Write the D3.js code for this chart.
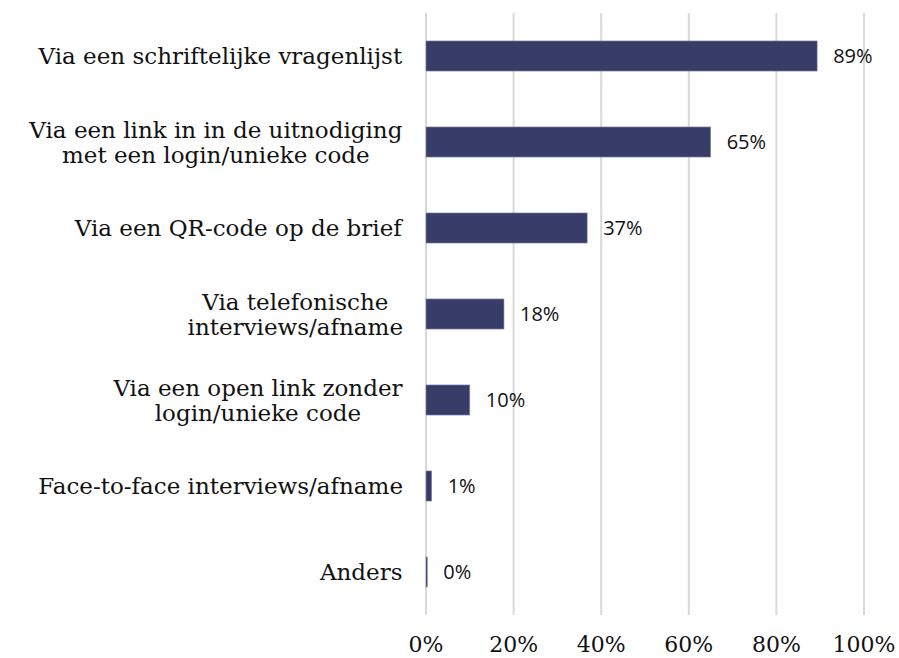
<!DOCTYPE html>
<html>
<head>
<meta charset="utf-8">
<script src="https://cdn.jsdelivr.net/npm/d3@7"></script>
<style>
  body { margin: 0; background: #fff; }
  svg { display: block; }
</style>
</head>
<body>
<script>
// data
const categories = [
  ['Via een schriftelijke vragenlijst'],
  ['Via een link in in de uitnodiging', 'met een login/unieke code'],
  ['Via een QR-code op de brief'],
  ['Via telefonische', 'interviews/afname'],
  ['Via een open link zonder', 'login/unieke code'],
  ['Face-to-face interviews/afname'],
  ['Anders']
]
const values = [89.3, 65, 36.8, 17.8, 10, 1.3, 0.3]
const ticks = [0, 20, 40, 60, 80, 100]

const width = 899, height = 658
const svg = d3.select('body').append('svg')
  .attr('width', width).attr('height', height)

const x = d3.scaleLinear().domain([0, 100]).range([426, 864])
const y = d3.scaleBand().domain(d3.range(categories.length)).range([13, 615]).paddingInner(0.65).paddingOuter(0.325)

const serif = '"DejaVu Serif", serif'
const sans = '"Open Sans", "Liberation Sans", sans-serif'

// gridlines
svg.append('g').selectAll('line')
  .data(ticks)
  .join('line')
  .attr('x1', d => x(d)).attr('x2', d => x(d))
  .attr('y1', 13).attr('y2', 615)
  .attr('stroke', '#d9d9d9')
  .attr('stroke-width', 2)

// tick labels
svg.append('g').selectAll('text')
  .data(ticks)
  .join('text')
  .attr('x', d => x(d))
  .attr('y', 652)
  .attr('text-anchor', 'middle')
  .attr('font-family', serif)
  .attr('font-size', 22)
  .attr('fill', '#111')
  .text(d => d + '%')

// bars
svg.append('g').selectAll('rect')
  .data(values)
  .join('rect')
  .attr('x', x(0))
  .attr('y', (d, i) => y(i))
  .attr('width', d => Math.max(1, x(d) - x(0)))
  .attr('height', y.bandwidth())
  .attr('fill', '#383c68')
  .attr('stroke', '#8a8db0')
  .attr('stroke-width', 0.6)

// value labels
svg.append('g').selectAll('text')
  .data(values)
  .join('text')
  .attr('x', d => x(d) + 16)
  .attr('y', (d, i) => y(i) + y.bandwidth() / 2)
  .attr('dy', '0.35em')
  .attr('font-family', sans)
  .attr('font-size', 20)
  .attr('fill', '#111')
  .text(d => Math.round(d) + '%')

// category labels
const cat = svg.append('g').selectAll('text')
  .data(categories)
  .join('text')
  .attr('text-anchor', 'middle')
  .attr('font-family', serif)
  .attr('font-size', 23)
  .attr('fill', '#111')
  .attr('transform', (d, i) => `translate(${[403, y(i) + y.bandwidth() / 2]})`)

cat.each(function(lines) {
  const t = d3.select(this)
  lines.forEach((l, j) => {
    t.append('tspan')
      .attr('x', 0)
      .attr('y', (j - (lines.length - 1) / 2) * 25)
      .attr('dy', '0.35em')
      .text(l)
  })
  // right align block, center lines within it
  const bb = this.getBBox()
  t.selectAll('tspan').attr('x', -bb.width / 2)
})
</script>
</body>
</html>
